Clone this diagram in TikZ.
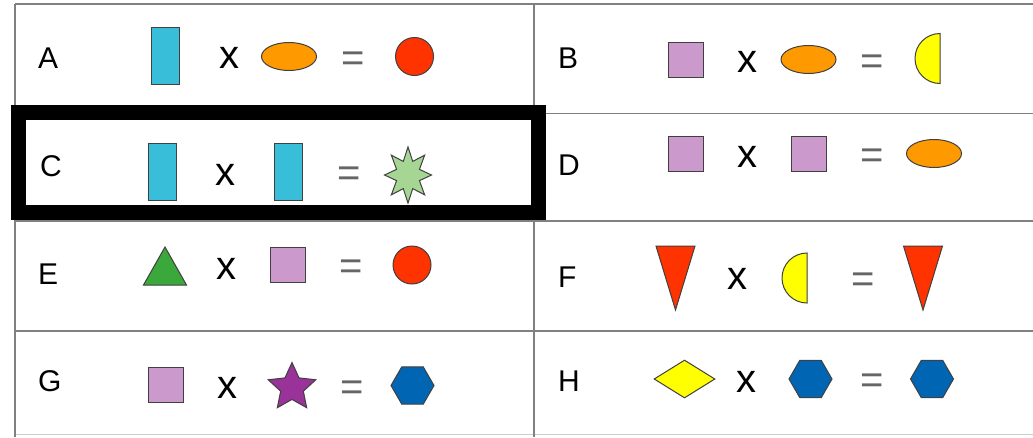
\documentclass[tikz,border=0pt]{standalone}
\usepackage{fontspec}
\setmainfont{Liberation Sans}
\usepackage{tikz}
\usepackage{xcolor}
\usetikzlibrary{shapes.geometric}
\definecolor{cyn}{RGB}{56,190,216}
\definecolor{org}{RGB}{255,153,0}
\definecolor{rd}{RGB}{255,51,0}
\definecolor{lil}{RGB}{204,153,204}
\definecolor{yel}{RGB}{255,255,0}
\definecolor{grn}{RGB}{58,168,58}
\definecolor{mnt}{RGB}{166,214,148}
\definecolor{plm}{RGB}{153,51,153}
\definecolor{blu}{RGB}{0,102,179}
\definecolor{gridc}{RGB}{128,128,128}
\tikzset{
  gridln/.style={draw=gridc,line width=1.5pt},
  hilite/.style={draw=black,line width=15pt},
  lbl/.style={font=\fontsize{30}{31}\selectfont,anchor=west,inner sep=0pt},
  op/.style={font=\fontsize{40}{40}\selectfont,inner sep=0pt},
  eq/.style={op,text=black!60,yshift=-4pt},
  outl/.style={draw=black!75,line width=1pt},
  bar/.style={rectangle,outl,fill=cyn,minimum width=28pt,minimum height=57pt,inner sep=0pt},
  sq/.style={rectangle,outl,fill=lil,minimum size=35pt,inner sep=0pt},
  oval/.style={ellipse,outl,fill=org,minimum width=55pt,minimum height=28pt,inner sep=0pt},
  dot/.style={circle,outl,fill=rd,minimum size=38pt,inner sep=0pt},
  hexa/.style={regular polygon,regular polygon sides=6,outl,fill=blu,minimum size=43pt,inner sep=0pt},
  burst/.style={star,star points=8,star point ratio=1.9,outl,fill=mnt,minimum size=56pt,inner sep=0pt,xscale=0.84},
  pstar/.style={star,star points=5,star point ratio=2.1,outl,fill=plm,minimum size=50pt,inner sep=0pt},
  rhomb/.style={diamond,outl,fill=yel,minimum width=61pt,minimum height=38pt,inner sep=0pt},
  % shapes with no ready node shape
  utri/.pic={\draw[outl,fill=grn] (-21.5,19) -- (21.5,19) -- (0,-19) -- cycle;},
  dtri/.pic={\draw[outl,fill=rd] (-19.5,-32) -- (19.5,-32) -- (0,32) -- cycle;},
  halfd/.pic={\draw[outl,fill=yel] (0,25) arc[start angle=90,end angle=270,radius=25] -- cycle;},
}

\begin{document}
\begin{tikzpicture}[x=1pt,y=-1pt]
\fill[white] (0,0) rectangle (1033,437);
\useasboundingbox (0,0) rectangle (1033,437);

% table rules
\draw[gridln] (15,4) -- (1033,4);
\draw[gridln] (15,113.5) -- (1033,113.5);
\draw[gridln] (15,221) -- (1033,221);
\draw[gridln] (15,331) -- (1033,331);
\draw[gridln,draw=gridc!40] (15,434.5) -- (1033,434.5);
\draw[gridln] (15,4) -- (15,437);
\draw[gridln] (534,4) -- (534,437);

% row A
\node[lbl] (lA) at (38,58) {A};
\node[bar] (a1) at (165.5,56) {};
\node[op] (ax) at (229,58) {x};
\node[oval] (a2) at (289,56.5) {};
\node[eq] (aq) at (353.5,58) {=};
\node[dot] (a3) at (414.5,56.5) {};

% row B
\node[lbl] (lB) at (558,58) {B};
\node[sq] (b1) at (685.5,59.5) {};
\node[op] (bx) at (747,62) {x};
\node[oval] (b2) at (808.5,59.5) {};
\node[eq] (bq) at (872,61) {=};
\pic at (940,58.5) {halfd};

% row C
\node[lbl] (lC) at (40,166) {C};
\node[bar] (c1) at (162,171.5) {};
\node[op] (cx) at (225,175) {x};
\node[bar] (c2) at (288,171.5) {};
\node[eq] (cq) at (349.5,173) {=};
\node[burst] (c3) at (408,175) {};

% row D
\node[lbl] (lD) at (558,165) {D};
\node[sq] (d1) at (686,154) {};
\node[op] (dx) at (747.5,157) {x};
\node[sq] (d2) at (809,154) {};
\node[eq] (dq) at (872,155) {=};
\node[oval] (d3) at (934,153.5) {};

% row E
\node[lbl] (lE) at (38,274) {E};
\pic at (165,266) {utri};
\node[op] (ex) at (226,269) {x};
\node[sq] (e2) at (287.5,264.5) {};
\node[eq] (eq) at (351.5,266) {=};
\node[dot] (e3) at (412,265) {};

% row F
\node[lbl] (lF) at (558,277) {F};
\pic at (675.5,278) {dtri};
\node[op] (fx) at (737,279) {x};
\pic at (807,278) {halfd};
\node[eq] (fq) at (863.5,279) {=};
\pic at (923,278) {dtri};

% row G
\node[lbl] (lG) at (38,381) {G};
\node[sq] (g1) at (165.5,385) {};
\node[op] (gx) at (227,388) {x};
\node[pstar] (g2) at (292,387.5) {};
\node[eq] (gq) at (352.5,387) {=};
\node[hexa] (g3) at (412.5,385.5) {};

% row H
\node[lbl] (lH) at (558,381) {H};
\node[rhomb] (h1) at (684.5,379) {};
\node[op] (hx) at (746,382) {x};
\node[hexa] (h2) at (810.5,379) {};
\node[eq] (hq) at (872,380) {=};
\node[hexa] (h3) at (932,379) {};

% highlighted answer
\draw[hilite] (18.5,112.5) rectangle (538.5,212.5);
\end{tikzpicture}
\end{document}
